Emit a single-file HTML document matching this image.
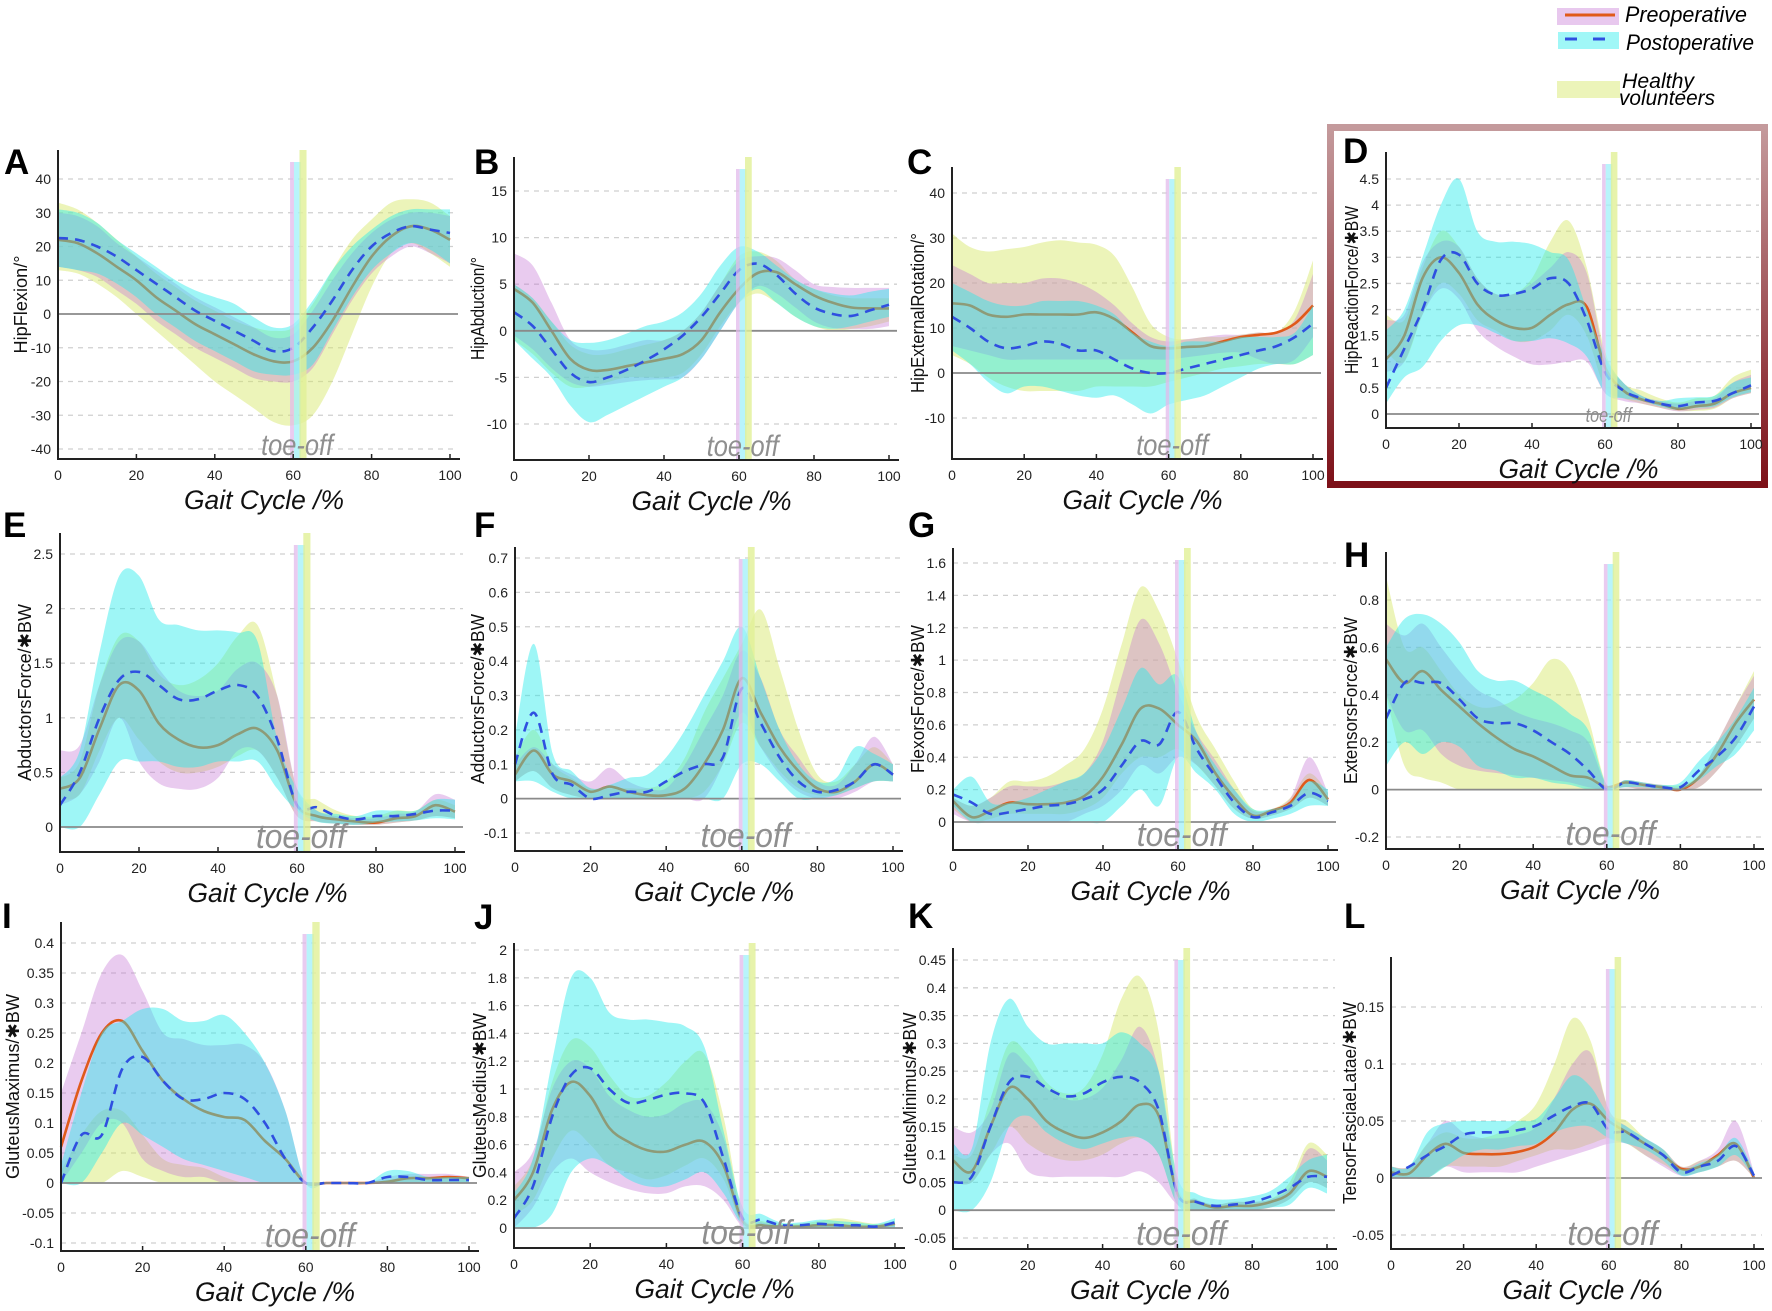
<!DOCTYPE html>
<html><head><meta charset="utf-8"><style>
html,body{margin:0;padding:0;background:#fff;}
svg{display:block;font-family:"Liberation Sans",sans-serif;}
</style></head><body>
<svg id="fig" width="1772" height="1311" viewBox="0 0 1772 1311" xmlns="http://www.w3.org/2000/svg">
<defs><linearGradient id="redg" x1="0" y1="0" x2="0" y2="1"><stop offset="0" stop-color="#c49a9c"/><stop offset="1" stop-color="#7d1018"/></linearGradient></defs>
<rect x="1330.5" y="127.5" width="434" height="357" fill="none" stroke="url(#redg)" stroke-width="7"/>
<g>
<rect x="1557" y="8" width="62" height="17" fill="rgb(232,200,238)"/>
<line x1="1565" y1="15" x2="1615" y2="15" stroke="#e05a1a" stroke-width="3"/>
<text x="1625" y="22" font-size="22" font-style="italic" textLength="122" lengthAdjust="spacingAndGlyphs">Preoperative</text>
<rect x="1558" y="32" width="61" height="17" fill="rgb(160,247,247)"/>
<line x1="1565" y1="39" x2="1615" y2="39" stroke="#2f4fe0" stroke-width="3" stroke-dasharray="12,16"/>
<text x="1626" y="50" font-size="22" font-style="italic" textLength="128" lengthAdjust="spacingAndGlyphs">Postoperative</text>
<rect x="1557" y="81" width="63" height="17" fill="rgb(236,244,185)"/>
<text x="1622" y="88" font-size="21" font-style="italic" textLength="72" lengthAdjust="spacingAndGlyphs">Healthy</text>
<text x="1619" y="105" font-size="21" font-style="italic" textLength="96" lengthAdjust="spacingAndGlyphs">volunteers</text>
</g>
</svg>
<script>
const xs=[0,5,10,15,20,25,30,35,40,45,50,55,60,65,70,75,80,85,90,95,100];
const xTicks=[0,20,40,60,80,100];
// A
const A_ticks=[-40,-30,-20,-10,0,10,20,30,40];
const A_pre=[22,21,18,14,10,5,1,-3,-6,-9,-12,-14,-14,-10,-2,8,17,23,26,25,22];
const A_post=[22.5,22,20,17,13,9,5,1,-2,-5,-8,-11,-10,-4,4,13,20,24,26,25,24];
const A_postHi=[31,30,27,22,18,14,10,7,5,3,-1,-4,-3,4,13,20,25,29,31,31,31];
const A_postLo=[14,13,12,9,5,0,-4,-8,-11,-14,-17,-18,-18,-15,-5,5,13,18,21,19,15];
const A_preHi=[30,29,26,21,17,13,9,5,2,-1,-4,-7,-6,1,10,18,24,28,30,30,29];
const A_preLo=[14,13,11,7,3,-2,-6,-10,-13,-16,-19,-20,-20,-16,-6,4,12,17,20,18,15];
const A_hHi=[33,31,27,22,17,12,8,4,1,-2,-4,-5,-4,3,13,22,28,33,34,33,29];
const A_hLo=[13,12,9,5,0,-5,-10,-15,-20,-24,-28,-32,-33,-30,-20,-6,8,18,21,18,14];
// B
const B_ticks=[-10,-5,0,5,10,15];
const B_pre=[4.5,3,0,-3,-4.2,-4.2,-3.8,-3.4,-3,-2.5,-1,2,4.5,6.2,6.3,5,3.8,3,2.5,2.4,2.4];
const B_post=[2,0.5,-2,-4.5,-5.5,-5,-4.2,-3.2,-2,-0.5,1.5,4,6.5,7.2,6,4,2.5,1.8,1.6,2.2,2.8];
const B_postHi=[5,3.5,1,-1,-1.3,-1,-0.3,0.5,1,2,4,7,9,8.5,7,5.5,4.5,4,3.8,4.2,4.5];
const B_postLo=[-1,-3,-5,-8,-9.8,-9,-8,-7,-6,-5,-3,0,3,4.5,3,1.5,0.5,0.2,0.5,1,1.5];
const B_preHi=[8.3,7,3,-1,-2,-2,-1.5,-1,-1,0,2,5,7.5,8,7.8,6.5,5,4.7,4.6,4.6,4.6];
const B_preLo=[-0.5,-2,-4,-5.5,-6,-5.8,-5.5,-5.3,-5.2,-5,-3,0,3,4.8,4,2.5,1,0.3,0.2,0.2,0.5];
const B_hHi=[5,3.5,1,-1.5,-2.5,-2.5,-2,-1.5,-1,0,2,5,8,8.5,7.5,5.5,4.5,3.8,3.5,3.5,3.5];
const B_hLo=[-1,-2.5,-4.5,-6,-6,-5.5,-5,-5,-5,-4.5,-2.5,0.5,3,4,3,1.5,0.5,0,0.2,0.5,1];
// C
const C_ticks=[-10,0,10,20,30,40];
const C_pre=[15.5,15,13,12.5,13,13,13,13,13.5,12,9,6,5.5,5.8,6,7,8,8.5,9,11,15];
const C_post=[12.5,10,7,5.5,6,7,6.5,5,5,3,1,0,0,1,2,3,4,5,6,8,11];
const C_postHi=[20,18,16,15,15,16,16,16,15,13,9,7,6,7,7,7,8,8,8,9,15];
const C_postLo=[5,2,-2,-4.5,-3,-3,-4,-5,-5.5,-5,-7,-9,-7,-6,-5,-3,-1,1,2,2,4];
const C_preHi=[24,22,20,20,20,21,21,20,18,15,11,8,7,7.5,8,8.5,8.5,9,9,12,22];
const C_preLo=[6,5,4,3,3,3,3,3,3,3,3,3,3,3.5,4,4.5,4.5,3,2,3,8];
const C_hHi=[31,28,27,27.5,28,29,29.5,29,28.5,26,19,11,8,7.5,8,8,8.5,9,9,14,25];
const C_hLo=[4,2,-1,-3,-4,-4,-4,-4,-3,-3,-3,-3,-2,-1,0,1,1.5,2,2,2,4];
// D
const D_ticks=[0,0.5,1,1.5,2,2.5,3,3.5,4,4.5];
const D_pre=[1.05,1.5,2.6,3.0,2.7,2.1,1.8,1.65,1.65,1.9,2.1,2.05,0.9,0.45,0.28,0.2,0.1,0.15,0.2,0.4,0.5];
const D_post=[0.5,1.25,2.0,2.95,3.05,2.5,2.28,2.3,2.4,2.6,2.5,1.8,0.8,0.45,0.3,0.2,0.15,0.22,0.25,0.4,0.55];
const D_postHi=[1.6,2.0,3.0,4.0,4.5,3.5,3.3,3.3,3.25,3.1,2.95,2.0,1.1,0.6,0.35,0.25,0.3,0.32,0.35,0.6,0.7];
const D_postLo=[0.2,0.7,0.9,1.4,1.7,1.7,1.55,1.4,1.4,1.45,1.35,1.1,0.4,0.3,0.25,0.15,0.08,0.12,0.15,0.32,0.42];
const D_preHi=[1.8,1.9,2.9,3.3,3.2,2.6,2.3,2.3,2.5,2.8,3.1,2.7,1.1,0.6,0.35,0.25,0.2,0.25,0.3,0.6,0.75];
const D_preLo=[0.8,1.0,1.9,2.4,2.2,1.6,1.3,1.1,0.95,0.95,1.0,1.0,0.4,0.25,0.2,0.12,0.05,0.08,0.12,0.3,0.4];
const D_hHi=[1.9,1.8,2.8,3.5,3.2,2.6,2.3,2.3,2.6,3.3,3.7,2.8,1.2,0.6,0.45,0.3,0.22,0.3,0.35,0.7,0.85];
const D_hLo=[1.2,1.0,1.9,2.5,2.3,1.8,1.6,1.4,1.4,1.6,1.9,1.5,0.5,0.3,0.2,0.12,0.06,0.06,0.1,0.3,0.4];
// E
const E_ticks=[0,0.5,1,1.5,2,2.5];
const E_pre=[0.35,0.45,0.9,1.3,1.25,0.95,0.8,0.73,0.75,0.85,0.9,0.7,0.2,0.1,0.07,0.05,0.04,0.08,0.1,0.2,0.14];
const E_post=[0.2,0.5,1.0,1.35,1.42,1.3,1.17,1.17,1.25,1.3,1.2,0.8,0.2,0.18,0.1,0.07,0.1,0.1,0.12,0.15,0.15];
const E_postHi=[0.45,0.7,1.6,2.3,2.3,1.9,1.85,1.8,1.8,1.78,1.7,0.8,0.35,0.15,0.12,0.1,0.15,0.15,0.15,0.25,0.25];
const E_postLo=[0,0,0.3,0.6,0.6,0.6,0.55,0.55,0.6,0.6,0.6,0.35,0.15,0.05,0.03,0.02,0.04,0.05,0.06,0.08,0.07];
const E_preHi=[0.7,0.75,1.3,1.7,1.7,1.45,1.25,1.2,1.25,1.45,1.5,1.2,0.35,0.15,0.1,0.08,0.08,0.12,0.14,0.3,0.25];
const E_preLo=[0.2,0.3,0.6,1.0,0.6,0.4,0.35,0.35,0.45,0.7,0.7,0.45,0.1,0.05,0.03,0.02,0.02,0.04,0.06,0.1,0.08];
const E_hHi=[0.45,0.6,1.3,1.75,1.7,1.4,1.3,1.35,1.5,1.75,1.85,1.2,0.35,0.25,0.15,0.1,0.1,0.15,0.15,0.25,0.2];
const E_hLo=[0.25,0.3,0.7,1.0,0.8,0.6,0.5,0.5,0.55,0.65,0.7,0.45,0.1,0.05,0.03,0.02,0.02,0.04,0.06,0.1,0.08];
// F
const F_ticks=[-0.1,0,0.1,0.2,0.3,0.4,0.5,0.6,0.7];
const F_pre=[0.07,0.14,0.07,0.05,0.02,0.035,0.02,0.01,0.01,0.03,0.1,0.2,0.35,0.25,0.15,0.08,0.03,0.02,0.05,0.1,0.07];
const F_post=[0.1,0.25,0.07,0.04,0,0.01,0.02,0.02,0.05,0.08,0.1,0.12,0.32,0.22,0.12,0.05,0.02,0.025,0.05,0.1,0.07];
const F_postHi=[0.18,0.45,0.13,0.08,0.03,0.04,0.06,0.07,0.12,0.2,0.3,0.4,0.5,0.35,0.2,0.1,0.05,0.06,0.15,0.13,0.1];
const F_postLo=[0.05,0.05,0.02,0,0,0,0,0,0,0,0,0,0.1,0.1,0.05,0,0,0.01,0.03,0.05,0.05];
const F_preHi=[0.1,0.15,0.1,0.07,0.05,0.09,0.05,0.03,0.03,0.1,0.2,0.3,0.43,0.35,0.2,0.12,0.05,0.04,0.1,0.18,0.1];
const F_preLo=[0.05,0.08,0.03,0.01,0,0,0,0,0,0,0,0.1,0.25,0.15,0.07,0.02,0,0,0.02,0.05,0.05];
const F_hHi=[0.12,0.2,0.1,0.06,0.03,0.03,0.03,0.03,0.05,0.12,0.25,0.35,0.45,0.55,0.38,0.2,0.07,0.05,0.1,0.15,0.1];
const F_hLo=[0.05,0.08,0.03,0.01,0,0,0,0,0,0,0.02,0.1,0.22,0.15,0.08,0.03,0.01,0.01,0.03,0.05,0.05];
// G
const G_ticks=[0,0.2,0.4,0.6,0.8,1,1.2,1.4,1.6];
const G_pre=[0.13,0.03,0.07,0.12,0.11,0.11,0.12,0.16,0.28,0.48,0.7,0.7,0.6,0.5,0.3,0.15,0.04,0.07,0.12,0.26,0.14];
const G_post=[0.17,0.12,0.05,0.06,0.08,0.1,0.11,0.14,0.2,0.35,0.5,0.48,0.68,0.45,0.28,0.12,0.03,0.06,0.1,0.18,0.13];
const G_postHi=[0.2,0.28,0.12,0.12,0.15,0.2,0.25,0.3,0.45,0.7,0.95,0.85,0.9,0.55,0.35,0.2,0.08,0.08,0.12,0.25,0.2];
const G_postLo=[0.1,0,0,0,0,0,0,0,0,0.1,0.2,0.1,0.4,0.3,0.2,0.05,0,0.02,0.05,0.1,0.1];
const G_preHi=[0.15,0.1,0.15,0.22,0.22,0.22,0.25,0.3,0.5,0.9,1.25,1.1,0.8,0.55,0.38,0.2,0.07,0.08,0.15,0.4,0.18];
const G_preLo=[0.05,0,0,0,0,0,0,0.05,0.1,0.2,0.35,0.3,0.4,0.35,0.22,0.08,0.02,0.04,0.08,0.15,0.1];
const G_hHi=[0.15,0.1,0.15,0.25,0.25,0.28,0.35,0.45,0.7,1.1,1.45,1.3,1.0,0.65,0.45,0.25,0.08,0.08,0.15,0.3,0.18];
const G_hLo=[0.08,0,0.02,0.05,0.05,0.05,0.05,0.08,0.15,0.3,0.4,0.4,0.45,0.35,0.22,0.08,0.02,0.04,0.08,0.15,0.1];
// H
const H_ticks=[-0.2,0,0.2,0.4,0.6,0.8];
const H_pre=[0.55,0.45,0.5,0.42,0.35,0.28,0.22,0.17,0.14,0.1,0.06,0.05,0.01,0.03,0.02,0.01,0.0,0.05,0.15,0.28,0.38];
const H_post=[0.3,0.45,0.45,0.45,0.38,0.3,0.28,0.28,0.25,0.2,0.15,0.08,0.0,0.03,0.02,0.01,0.01,0.08,0.14,0.22,0.35];
const H_postHi=[0.6,0.72,0.74,0.7,0.62,0.5,0.46,0.46,0.42,0.38,0.32,0.25,0.02,0.04,0.03,0.02,0.03,0.12,0.2,0.3,0.43];
const H_postLo=[0.1,0.2,0.15,0.2,0.18,0.1,0.08,0.05,0.05,0.03,0.02,0,0,0.01,0.01,0,0,0.04,0.1,0.15,0.25];
const H_preHi=[0.7,0.65,0.7,0.6,0.5,0.42,0.38,0.33,0.3,0.28,0.25,0.2,0.02,0.04,0.03,0.02,0.01,0.06,0.2,0.35,0.48];
const H_preLo=[0.4,0.25,0.25,0.15,0.1,0.08,0.07,0.06,0.05,0.04,0.03,0.01,0,0.01,0,0,0,0.01,0.08,0.18,0.3];
const H_hHi=[0.9,0.6,0.6,0.5,0.4,0.35,0.35,0.38,0.45,0.55,0.5,0.3,0.02,0.04,0.03,0.02,0.02,0.06,0.2,0.35,0.5];
const H_hLo=[0.4,0.1,0.05,0.03,0,0,0,0,0,0,0,0,0,0.01,0,0,0,0.01,0.08,0.18,0.3];
// I
const I_ticks=[-0.1,-0.05,0,0.05,0.1,0.15,0.2,0.25,0.3,0.35,0.4];
const I_pre=[0.06,0.17,0.25,0.27,0.22,0.17,0.14,0.12,0.11,0.105,0.07,0.04,0,0,0,0,0.002,0.008,0.008,0.01,0.008];
const I_post=[0,0.08,0.08,0.19,0.21,0.17,0.14,0.14,0.15,0.14,0.1,0.04,0,0,0,0,0.01,0.01,0.005,0.005,0.005];
const I_postHi=[0.03,0.15,0.25,0.27,0.29,0.29,0.27,0.27,0.28,0.25,0.2,0.12,0,0,0,0,0.02,0.02,0.01,0.01,0.01];
const I_postLo=[0,0,0.05,0.1,0.08,0.06,0.04,0.03,0.02,0.01,0,0,0,0,0,0,0,0,0,0,0];
const I_preHi=[0.15,0.25,0.35,0.38,0.32,0.25,0.24,0.23,0.23,0.23,0.2,0.12,0,0,0,0,0.01,0.015,0.015,0.015,0.01];
const I_preLo=[0,0.05,0.1,0.1,0.04,0.02,0.01,0.01,0,0,0,0,0,0,0,0,0,0,0,0,0];
const I_hHi=[0.02,0.08,0.12,0.12,0.08,0.04,0.03,0.025,0.01,0,0,0,0,0,0,0,0.005,0.01,0.01,0.01,0.01];
const I_hLo=[0,0,0,0.02,0.01,0,0,0,0,0,0,0,0,0,0,0,0,0,0,0,0];
// J
const J_ticks=[0,0.2,0.4,0.6,0.8,1,1.2,1.4,1.6,1.8,2];
const J_pre=[0.2,0.4,0.85,1.05,0.95,0.72,0.62,0.56,0.55,0.6,0.62,0.45,0.05,0.02,0.01,0.01,0.02,0.02,0.01,0.01,0.03];
const J_post=[0.07,0.3,0.8,1.1,1.15,1.0,0.9,0.92,0.96,0.97,0.9,0.5,0.07,0.06,0.02,0.02,0.03,0.02,0.02,0.01,0.04];
const J_postHi=[0.25,0.5,1.2,1.8,1.8,1.55,1.5,1.5,1.48,1.45,1.3,0.7,0.15,0.1,0.04,0.04,0.06,0.05,0.04,0.03,0.07];
const J_postLo=[0,0,0.1,0.4,0.5,0.45,0.35,0.3,0.3,0.35,0.4,0.25,0.02,0.01,0,0,0,0,0,0,0];
const J_preHi=[0.4,0.55,1.0,1.2,1.15,0.95,0.85,0.8,0.82,0.9,0.9,0.65,0.08,0.04,0.02,0.02,0.03,0.03,0.02,0.02,0.04];
const J_preLo=[0,0.15,0.4,0.5,0.4,0.33,0.28,0.25,0.25,0.3,0.3,0.2,0.01,0,0,0,0,0,0,0,0];
const J_hHi=[0.3,0.5,1.05,1.35,1.3,1.1,0.95,0.95,1.05,1.2,1.25,0.8,0.1,0.05,0.03,0.03,0.05,0.07,0.05,0.03,0.05];
const J_hLo=[0.1,0.2,0.5,0.7,0.6,0.45,0.4,0.35,0.38,0.45,0.5,0.35,0.02,0,0,0,0,0,0,0,0];
// K
const K_ticks=[-0.05,0,0.05,0.1,0.15,0.2,0.25,0.3,0.35,0.4,0.45];
const K_pre=[0.09,0.07,0.15,0.22,0.2,0.16,0.14,0.13,0.14,0.16,0.19,0.17,0.03,0.015,0.005,0.008,0.008,0.015,0.03,0.07,0.06];
const K_post=[0.05,0.06,0.15,0.23,0.24,0.22,0.205,0.21,0.23,0.24,0.23,0.18,0.03,0.015,0.008,0.01,0.015,0.025,0.04,0.06,0.06];
const K_postHi=[0.12,0.11,0.3,0.38,0.33,0.3,0.3,0.3,0.3,0.32,0.3,0.25,0.06,0.03,0.02,0.02,0.025,0.035,0.06,0.09,0.1];
const K_postLo=[0,0,0.05,0.15,0.17,0.14,0.12,0.11,0.12,0.13,0.13,0.1,0.01,0,0,0,0,0.005,0.01,0.04,0.03];
const K_preHi=[0.15,0.14,0.18,0.28,0.26,0.22,0.2,0.2,0.22,0.27,0.33,0.25,0.04,0.02,0.01,0.015,0.015,0.02,0.04,0.11,0.09];
const K_preLo=[0.05,0.05,0.1,0.12,0.07,0.06,0.06,0.06,0.06,0.06,0.07,0.05,0.01,0,0,0,0,0.005,0.02,0.05,0.04];
const K_hHi=[0.1,0.1,0.2,0.3,0.28,0.23,0.21,0.22,0.28,0.38,0.42,0.32,0.05,0.02,0.01,0.015,0.015,0.02,0.05,0.12,0.1];
const K_hLo=[0.05,0.05,0.1,0.15,0.12,0.1,0.09,0.09,0.1,0.12,0.13,0.1,0.01,0,0,0,0,0.005,0.02,0.05,0.04];
// L
const L_ticks=[-0.05,0,0.05,0.1,0.15];
const L_pre=[0.005,0.004,0.02,0.03,0.022,0.021,0.021,0.023,0.028,0.04,0.06,0.065,0.05,0.04,0.03,0.02,0.008,0.01,0.02,0.03,0];
const L_post=[0.002,0.01,0.02,0.028,0.038,0.04,0.04,0.042,0.046,0.055,0.063,0.065,0.042,0.04,0.03,0.02,0.005,0.01,0.015,0.028,0.002];
const L_postHi=[0.01,0.01,0.04,0.048,0.05,0.05,0.05,0.05,0.052,0.07,0.09,0.08,0.055,0.045,0.035,0.025,0.008,0.013,0.02,0.035,0.005];
const L_postLo=[0,0,0,0.01,0.02,0.025,0.025,0.028,0.03,0.04,0.045,0.045,0.035,0.03,0.025,0.015,0.002,0.005,0.01,0.02,0];
const L_preHi=[0.01,0.01,0.03,0.05,0.04,0.035,0.035,0.038,0.045,0.07,0.1,0.11,0.06,0.045,0.035,0.025,0.01,0.015,0.025,0.05,0.005];
const L_preLo=[0,0,0,0.01,0.005,0.005,0.005,0.005,0.01,0.015,0.02,0.025,0.03,0.03,0.02,0.01,0.002,0.005,0.01,0.015,0];
const L_hHi=[0.01,0.01,0.03,0.04,0.035,0.035,0.04,0.05,0.065,0.1,0.14,0.12,0.06,0.05,0.035,0.025,0.01,0.015,0.02,0.03,0.005];
const L_hLo=[0,0,0,0.01,0.01,0.01,0.01,0.015,0.02,0.025,0.025,0.03,0.035,0.03,0.02,0.012,0.003,0.005,0.01,0.015,0];

const panels=[
 {id:'A',ylabel:'HipFlexion/°',ticks:A_ticks,pre:A_pre,post:A_post,postHi:A_postHi,postLo:A_postLo,preHi:A_preHi,preLo:A_preLo,hHi:A_hHi,hLo:A_hLo,x0:58,x1:450,v1:40,p1:179,v2:-40,p2:449,top:150,bot:459,lx:4,ly:174,yo:37,yl:98,row:1},
 {id:'B',ylabel:'HipAbduction/°',ticks:B_ticks,pre:B_pre,post:B_post,postHi:B_postHi,postLo:B_postLo,preHi:B_preHi,preLo:B_preLo,hHi:B_hHi,hLo:B_hLo,x0:514,x1:889,v1:15,p1:191,v2:-10,p2:424,top:157,bot:460,lx:474,ly:174,yo:36,yl:103,row:1},
 {id:'C',ylabel:'HipExternalRotation/°',ticks:C_ticks,pre:C_pre,post:C_post,postHi:C_postHi,postLo:C_postLo,preHi:C_preHi,preLo:C_preLo,hHi:C_hHi,hLo:C_hLo,x0:952,x1:1313,v1:40,p1:193,v2:-10,p2:418,top:167,bot:459,lx:907,ly:174,yo:34,yl:160,row:1},
 {id:'D',ylabel:'HipReactionForce/✱BW',ticks:D_ticks,pre:D_pre,post:D_post,postHi:D_postHi,postLo:D_postLo,preHi:D_preHi,preLo:D_preLo,hHi:D_hHi,hLo:D_hLo,x0:1386,x1:1751,v1:4.5,p1:179,v2:0,p2:414,top:152,bot:428,lx:1343,ly:163,small:true,yo:34,yl:168,row:1},
 {id:'E',ylabel:'AbductorsForce/✱BW',ticks:E_ticks,pre:E_pre,post:E_post,postHi:E_postHi,postLo:E_postLo,preHi:E_preHi,preLo:E_preLo,hHi:E_hHi,hLo:E_hLo,x0:60,x1:455,v1:2.5,p1:554,v2:0,p2:827,top:533,bot:852,lx:3,ly:537,yo:35,yl:177,row:2},
 {id:'F',ylabel:'AdductorsForce/✱BW',ticks:F_ticks,pre:F_pre,post:F_post,postHi:F_postHi,postLo:F_postLo,preHi:F_preHi,preLo:F_preLo,hHi:F_hHi,hLo:F_hLo,x0:515,x1:893,v1:0.7,p1:558,v2:-0.1,p2:833,top:547,bot:851,lx:474,ly:537,yo:37,yl:170,row:2},
 {id:'G',ylabel:'FlexorsForce/✱BW',ticks:G_ticks,pre:G_pre,post:G_post,postHi:G_postHi,postLo:G_postLo,preHi:G_preHi,preLo:G_preLo,hHi:G_hHi,hLo:G_hLo,x0:953,x1:1328,v1:1.6,p1:563,v2:0,p2:822,top:548,bot:850,lx:908,ly:537,yo:35,yl:148,row:2},
 {id:'H',ylabel:'ExtensorsForce/✱BW',ticks:H_ticks,pre:H_pre,post:H_post,postHi:H_postHi,postLo:H_postLo,preHi:H_preHi,preLo:H_preLo,hHi:H_hHi,hLo:H_hLo,x0:1386,x1:1754,v1:0.8,p1:600,v2:-0.2,p2:837,top:552,bot:849,lx:1344,ly:567,yo:35,yl:167,row:2},
 {id:'I',ylabel:'GluteusMaximus/✱BW',ticks:I_ticks,pre:I_pre,post:I_post,postHi:I_postHi,postLo:I_postLo,preHi:I_preHi,preLo:I_preLo,hHi:I_hHi,hLo:I_hLo,x0:61,x1:469,v1:0.4,p1:943,v2:-0.1,p2:1243,top:922,bot:1251,lx:2,ly:928,yo:48,yl:185,row:3},
 {id:'J',ylabel:'GluteusMedius/✱BW',ticks:J_ticks,pre:J_pre,post:J_post,postHi:J_postHi,postLo:J_postLo,preHi:J_preHi,preLo:J_preLo,hHi:J_hHi,hLo:J_hLo,x0:514,x1:895,v1:2,p1:950,v2:0,p2:1228,top:943,bot:1248,lx:474,ly:929,yo:34,yl:165,row:3},
 {id:'K',ylabel:'GluteusMinimus/✱BW',ticks:K_ticks,pre:K_pre,post:K_post,postHi:K_postHi,postLo:K_postLo,preHi:K_preHi,preLo:K_preLo,hHi:K_hHi,hLo:K_hLo,x0:953,x1:1327,v1:0.45,p1:960,v2:-0.05,p2:1238,top:948,bot:1249,lx:908,ly:928,yo:43,yl:172,row:3},
 {id:'L',ylabel:'TensorFasciaeLatae/✱BW',ticks:L_ticks,pre:L_pre,post:L_post,postHi:L_postHi,postLo:L_postLo,preHi:L_preHi,preLo:L_preLo,hHi:L_hHi,hLo:L_hLo,x0:1391,x1:1754,v1:0.15,p1:1007,v2:-0.05,p2:1235,top:957,bot:1249,lx:1344,ly:928,yo:41,yl:202,row:3}
];
const NS='http://www.w3.org/2000/svg';
const svg=document.getElementById('fig');
function mk(tag,attrs,parent){const e=document.createElementNS(NS,tag);for(const k in attrs)e.setAttribute(k,attrs[k]);(parent||svg).appendChild(e);return e;}
function smooth(pts){let d='M'+pts[0][0].toFixed(1)+','+pts[0][1].toFixed(1);
 for(let i=0;i<pts.length-1;i++){const p0=pts[Math.max(i-1,0)],p1=pts[i],p2=pts[i+1],p3=pts[Math.min(i+2,pts.length-1)];
  const c1=[p1[0]+(p2[0]-p0[0])/6,p1[1]+(p2[1]-p0[1])/6],c2=[p2[0]-(p3[0]-p1[0])/6,p2[1]-(p3[1]-p1[1])/6];
  d+='C'+c1[0].toFixed(1)+','+c1[1].toFixed(1)+' '+c2[0].toFixed(1)+','+c2[1].toFixed(1)+' '+p2[0].toFixed(1)+','+p2[1].toFixed(1);}
 return d;}
panels.forEach(P=>{
 const g=mk('g',{});
 
 
 const sx=v=>P.x0+(P.x1-P.x0)*v/100;
 const k=(P.p2-P.p1)/(P.v2-P.v1);
 const sy=v=>P.p1+(v-P.v1)*k;
 const xr=P.x1+8;
 P.ticks.forEach(t=>{
  const y=sy(t);
  if(Math.abs(t)>1e-9){const l=mk('line',{x1:P.x0,y1:y,x2:xr,y2:y,stroke:'#cfcfcf','stroke-width':1.3,'stroke-dasharray':'5,5'},g);
   
   }
  const tx=mk('text',{x:P.x0-7,y:y+5,'font-size':14,'text-anchor':'end',fill:'#222'},g);
  
  
  tx.textContent=String(t);
 });
 const pts=a=>a.map((v,i)=>[sx(xs[i]),sy(v)]);
 function band(hi,lo,fill,name){
  const up=pts(hi),dn=pts(lo).reverse();
  const d=smooth(up)+'L'+dn[0][0].toFixed(1)+','+dn[0][1].toFixed(1)+smooth(dn).replace(/^M[^C]*/,'')+'Z';
  const p=mk('path',{d:d,fill:fill,stroke:'none'},g);
  
  
 }
 band(P.hHi,P.hLo,'rgba(213,231,99,0.45)','healthy-band');
 band(P.preHi,P.preLo,'rgba(197,117,212,0.38)','preop-band');
 const pl=mk('path',{d:smooth(pts(P.pre)),fill:'none',stroke:'#e05a1a','stroke-width':2.6},g);
 
 
 band(P.postHi,P.postLo,'rgba(40,235,235,0.45)','postop-band');
 const z=mk('line',{x1:P.x0,y1:sy(0),x2:xr,y2:sy(0),stroke:'#8a8a8a','stroke-width':1.8},g);
 
 
 const po=mk('path',{d:smooth(pts(P.post)),fill:'none',stroke:'#2f4fe0','stroke-width':2.6,'stroke-dasharray':'10,7'},g);
 
 
 const tb=[[59.2,60.2,'rgba(225,185,235,0.75)',12],[60.2,62,'rgba(160,240,250,0.75)',12],[61.6,63.4,'rgba(225,240,150,0.8)',0]];
 tb.forEach(b=>{const r=mk('rect',{x:sx(b[0]),y:P.top+b[3],width:sx(b[1])-sx(b[0]),height:P.bot-P.top-b[3],fill:b[2]},g);
  
  });
 const big=P.row>1;
 const to=mk('text',{x:sx(61),y:P.small?P.bot-6:P.bot-4,'font-size':P.small?20:(big?34:30),'font-style':'italic','text-anchor':'middle',fill:'#8f8f8f',textLength:P.small?46:(big?90:72),lengthAdjust:'spacingAndGlyphs'},g);
 
 
 to.textContent='toe-off';
 const ax=mk('path',{d:'M'+P.x0+','+P.top+'V'+P.bot+'H'+(xr+2),fill:'none',stroke:'#222','stroke-width':2},g);
 
 
 xTicks.forEach(t=>{
  mk('line',{x1:sx(t),y1:P.bot,x2:sx(t),y2:P.bot-5,stroke:'#222','stroke-width':1.5},g);
  const tx=mk('text',{x:sx(t),y:P.bot+21,'font-size':14,'text-anchor':'middle',fill:'#222'},g);
  
  
  tx.textContent=String(t);
 });
 const xl=mk('text',{x:(P.x0+P.x1)/2+10,y:P.bot+50,'font-size':27,'font-style':'italic','text-anchor':'middle',fill:'#111',textLength:160,lengthAdjust:'spacingAndGlyphs'},g);
 
 
 xl.textContent='Gait Cycle  /%';
 const cy=(P.top+P.bot)/2, cx=P.x0-P.yo+6;
 const yl=mk('text',{x:cx,y:cy,'font-size':18,'text-anchor':'middle',fill:'#111',textLength:P.yl,lengthAdjust:'spacingAndGlyphs',transform:'rotate(-90 '+cx+' '+cy+')'},g);
 
 
 yl.textContent=P.ylabel;
 const lt=mk('text',{x:P.lx,y:P.ly,'font-size':35,'font-weight':'bold',fill:'#000'},g);
 
 
 lt.textContent=P.id;
});
</script>
</body></html>
